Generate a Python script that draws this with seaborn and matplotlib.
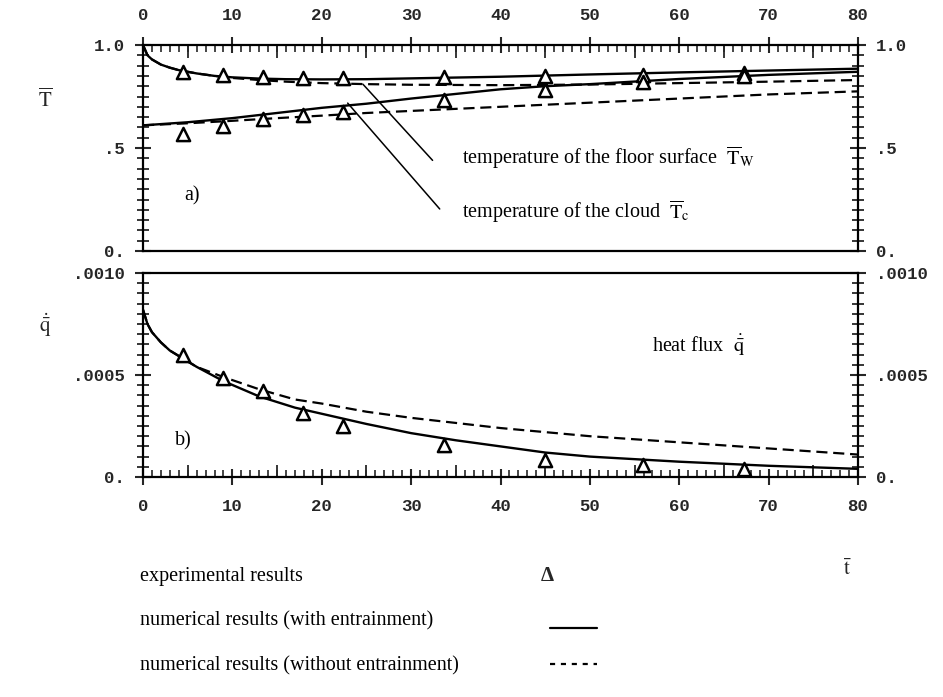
import numpy as np
import pandas as pd
import seaborn as sns
import matplotlib
matplotlib.use("Agg")
import matplotlib.pyplot as plt
from matplotlib.lines import Line2D
from matplotlib.ticker import FixedLocator, MultipleLocator, FixedFormatter

# ---- experimental points (dimensionless time t) ----
t_exp = [4.5, 8.9, 13.4, 17.9, 22.4, 33.7, 45.0, 55.9, 67.2]
tw_exp = [0.870, 0.855, 0.845, 0.840, 0.840, 0.845, 0.850, 0.855, 0.865]
tc_exp = [0.570, 0.607, 0.640, 0.660, 0.675, 0.733, 0.780, 0.820, 0.850]
q_exp = [0.00060, 0.000485, 0.00042, 0.000313, 0.00025, 0.000157, 0.000083, 0.00006, 0.00004]

# ---- floor surface temperature ----
t_w = [0, 0.5, 1, 2, 3, 4, 6, 8, 10, 13, 16, 20, 25, 30, 40, 50, 60, 70, 80]
tw_with = [1.0, 0.95, 0.93, 0.905, 0.89, 0.878, 0.862, 0.85, 0.843, 0.837, 0.834,
           0.833, 0.834, 0.838, 0.846, 0.857, 0.867, 0.876, 0.885]
tw_without = [1.0, 0.95, 0.93, 0.905, 0.89, 0.878, 0.862, 0.85, 0.84, 0.83, 0.822,
              0.815, 0.81, 0.807, 0.805, 0.808, 0.815, 0.822, 0.83]

# ---- cloud temperature ----
t_c = [0, 5, 10, 15, 20, 25, 30, 40, 45, 50, 60, 70, 80]
tc_with = [0.61, 0.625, 0.645, 0.67, 0.695, 0.715, 0.74, 0.785, 0.80, 0.81, 0.835, 0.855, 0.87]
tc_without = [0.61, 0.62, 0.632, 0.645, 0.657, 0.67, 0.68, 0.70, 0.71, 0.72, 0.74, 0.76, 0.775]

# ---- heat flux ----
t_q = [0, 0.5, 1, 2, 3, 4.5, 6, 9, 13, 17, 20, 25, 30, 35, 40, 45, 50, 60, 70, 80]
q_with = [0.00082, 0.00075, 0.00071, 0.00066, 0.00062, 0.00058, 0.00054, 0.00047,
          0.000395, 0.00034, 0.00031, 0.00026, 0.000215, 0.00018, 0.00015, 0.00012,
          0.0001, 0.000075, 0.000055, 0.00004]
q_without = [0.00082, 0.00075, 0.00071, 0.00066, 0.00062, 0.00058, 0.00054, 0.00049,
             0.00043, 0.00038, 0.00036, 0.00032, 0.00029, 0.000265, 0.00024, 0.00022,
             0.0002, 0.00017, 0.00014, 0.00011]

x_ticks = [0, 10, 20, 30, 40, 50, 60, 70, 80]
x_tick_labels = ["0", "10", "20", "30", "40", "50", "60", "70", "80"]
T_ticks = [0.0, 0.5, 1.0]
T_tick_labels = ["0.", ".5", "1.0"]
q_ticks = [0.0, 0.0005, 0.0010]
q_tick_labels = ["0.", ".0005", ".0010"]

sns.set_style("ticks")
plt.rcParams["font.family"] = ["Liberation Serif", "DejaVu Serif"]
plt.rcParams["mathtext.fontset"] = "stix"

W, H = 943, 697
fig = plt.figure(figsize=(W / 100, H / 100), dpi=100)


def px_axes(left, right, top, bottom):
    return fig.add_axes([left / W, 1 - bottom / H, (right - left) / W, (bottom - top) / H])


ax1 = px_axes(143, 858, 45, 251)
ax2 = px_axes(143, 858, 273, 477)

mono = {"family": "Liberation Mono", "size": 12.5, "weight": "bold"}
LW_SPINE = 1.6
DASH = (0, (5, 2.6))


def style_axes(ax, yticks, ylabels, ystep, xside):
    ax.set_xlim(0, 80)
    for s in ax.spines.values():
        s.set_linewidth(LW_SPINE)
        s.set_color("black")
    # y axis on both sides
    ax.yaxis.set_major_locator(FixedLocator(yticks))
    ax.yaxis.set_major_formatter(FixedFormatter(ylabels))
    ax.yaxis.set_minor_locator(MultipleLocator(ystep))
    ax.tick_params(axis="y", which="major", left=True, right=True, labelleft=True,
                   labelright=True, direction="inout", length=12, width=1.5, pad=7)
    ax.tick_params(axis="y", which="minor", left=True, right=True, direction="inout",
                   length=9, width=1.3)
    # x axis on one side only
    ax.xaxis.set_major_locator(FixedLocator(x_ticks))
    ax.xaxis.set_major_formatter(FixedFormatter(x_tick_labels))
    ax.xaxis.set_minor_locator(MultipleLocator(1))
    top = xside == "top"
    ax.tick_params(axis="x", which="major", top=top, bottom=not top, labeltop=top,
                   labelbottom=not top, direction="inout", length=12, width=1.5, pad=10)
    ax.tick_params(axis="x", which="minor", top=top, bottom=not top, direction="in",
                   length=5, width=1.2)
    for lab in ax.get_xticklabels() + ax.get_yticklabels():
        lab.set_fontfamily(mono["family"])
        lab.set_fontsize(mono["size"])
        lab.set_fontweight(mono["weight"])
    # intermediate ticks at the fives
    sec = ax.secondary_xaxis(xside)
    sec.set_xticks([5, 15, 25, 35, 45, 55, 65, 75])
    sec.set_xticklabels([])
    sec.tick_params(direction="in", length=9, width=1.3)
    sec.spines[xside].set_visible(False)
    ax.set_xlabel("")
    ax.set_ylabel("")


# ---- panel a) temperatures ----
ax1.set_ylim(0, 1.0)
sns.lineplot(x=t_w, y=tw_without, ax=ax1, color="black", linestyle=DASH, linewidth=1.6)
sns.lineplot(x=t_c, y=tc_without, ax=ax1, color="black", linestyle=DASH, linewidth=1.6)
sns.lineplot(x=t_w, y=tw_with, ax=ax1, color="black", linewidth=1.7)
sns.lineplot(x=t_c, y=tc_with, ax=ax1, color="black", linewidth=1.7)
sns.scatterplot(x=t_exp, y=tw_exp, ax=ax1, marker="^", s=90, facecolor="white",
                edgecolor="black", linewidth=1.8, zorder=5)
sns.scatterplot(x=t_exp, y=tc_exp, ax=ax1, marker="^", s=90, facecolor="white",
                edgecolor="black", linewidth=1.8, zorder=5)
style_axes(ax1, T_ticks, T_tick_labels, 0.05, "top")

txt = {"fontsize": 14.5, "color": "black"}
leader = dict(arrowstyle="-", color="black", lw=1.1, shrinkA=0, shrinkB=0)
ax1.text(35.7, 0.456, r"temperature of the floor surface  $\overline{\mathrm{T}}_{\mathrm{W}}$",
         va="center", ha="left", **txt)
ax1.annotate("", xy=(24.6, 0.81), xytext=(32.4, 0.44), arrowprops=leader)
ax1.text(35.7, 0.19, r"temperature of the cloud  $\overline{\mathrm{T}}_{\mathrm{c}}$",
         va="center", ha="left", **txt)
ax1.annotate("", xy=(22.9, 0.718), xytext=(33.2, 0.204), arrowprops=leader)
ax1.text(5.5, 0.267, "a)", ha="center", va="center", **txt)

# ---- panel b) heat flux ----
ax2.set_ylim(0, 0.0010)
sns.lineplot(x=t_q, y=q_without, ax=ax2, color="black", linestyle=DASH, linewidth=1.6)
sns.lineplot(x=t_q, y=q_with, ax=ax2, color="black", linewidth=1.7)
sns.scatterplot(x=t_exp, y=q_exp, ax=ax2, marker="^", s=90, facecolor="white",
                edgecolor="black", linewidth=1.8, zorder=5)
style_axes(ax2, q_ticks, q_tick_labels, 0.00005, "bottom")
ax2.text(57.0, 0.000647, r"heat flux  $\dot{\bar{\mathrm{q}}}$", ha="left", va="center", **txt)
ax2.text(4.5, 0.000176, "b)", ha="center", va="center", **txt)

# ---- axis symbols ----
fig.text(45 / W, 1 - 100 / H, r"$\overline{\mathrm{T}}$", ha="center", va="center", fontsize=15)
fig.text(45 / W, 1 - 325 / H, r"$\dot{\bar{\mathrm{q}}}$", ha="center", va="center", fontsize=15)
fig.text(847 / W, 1 - 570 / H, r"$\bar{\mathrm{t}}$", ha="center", va="center", fontsize=15)

# ---- key ----
fig.text(140 / W, 1 - 576 / H, "experimental results", ha="left", va="center", **txt)
fig.text(140 / W, 1 - 621 / H, "numerical results (with entrainment)", ha="left", va="center", **txt)
fig.text(140 / W, 1 - 666 / H, "numerical results (without entrainment)", ha="left", va="center", **txt)
fig.text(547 / W, 1 - 576 / H, "Δ", ha="center", va="center", fontsize=15, fontweight="bold")
fig.add_artist(Line2D([550 / W, 597 / W], [1 - 628 / H, 1 - 628 / H], color="black",
                      lw=1.6, transform=fig.transFigure))
fig.add_artist(Line2D([550 / W, 597 / W], [1 - 664 / H, 1 - 664 / H], color="black",
                      lw=1.6, linestyle=(0, (2.3, 2.6)), transform=fig.transFigure))

fig.savefig("out.png", dpi=100, facecolor="white")
